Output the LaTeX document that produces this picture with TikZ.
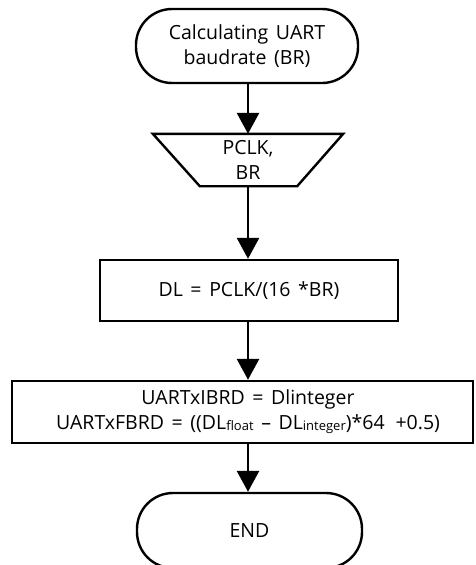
\documentclass[tikz,border=0pt]{standalone}
\usepackage{fontspec}
\setmainfont[WordSpace=1.5]{Open Sans}
\usetikzlibrary{arrows.meta,calc}
\newcommand{\subtxt}[1]{\raisebox{-1pt}{\fontsize{13}{13}\selectfont #1}}
\begin{document}
\begin{tikzpicture}[x=1pt,y=-1pt,
  every node/.style={font=\fontsize{19.5}{25}\selectfont, align=center},
  box/.style={draw, line width=2.4pt, inner sep=0pt},
  term/.style={box, rounded corners=36pt},
  outline/.style={line width=2.4pt, line join=miter},
  flow/.style={line width=2.8pt, -{Triangle[width=22pt,length=21pt]}}]
\useasboundingbox (0,0) rectangle (475,565);
\node[term, minimum width=222pt, minimum height=74pt] (start) at (247,46) {Calculating UART\\baudrate (BR)};
\node[inner sep=0pt, minimum width=190pt, minimum height=52pt] (io) at (248,160) {PCLK,\\BR};
\draw[outline] (io.north west) -- (io.north east) -- ([xshift=-46pt]io.south east) -- ([xshift=47pt]io.south west) -- cycle;
\node[box, minimum width=298pt, minimum height=61pt] (dl) at (249,290.5) {DL = PCLK/(16 *BR)};
\node[box, minimum width=461pt, minimum height=62pt] (reg) at (242.5,412)
  {\hspace*{11pt}UARTxIBRD = Dlinteger\\\hspace*{11pt}UARTxFBRD = ((DL\subtxt{float} -- DL\subtxt{integer})*64 \,+0.5)};
\node[term, minimum width=225pt, minimum height=75pt] (fin) at (249.5,530.5) {END};
\draw[flow] (start.south -| 248,0) -- (io.north -| 248,0);
\draw[flow] (io.south -| 248,0) -- (dl.north -| 248,0);
\draw[flow] (dl.south -| 248,0) -- (reg.north -| 248,0);
\draw[flow] (reg.south -| 248,0) -- (fin.north -| 248,0);
\end{tikzpicture}
\end{document}
